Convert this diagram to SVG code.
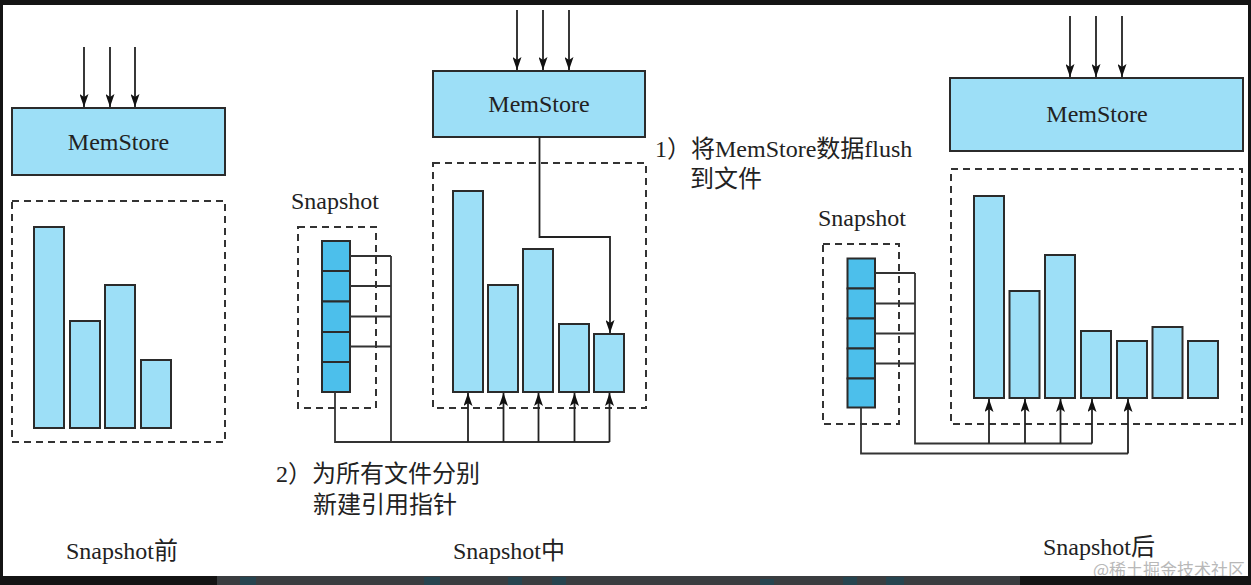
<svg xmlns="http://www.w3.org/2000/svg" width="1251" height="585" viewBox="0 0 1251 585">
<style>
.box{fill:#9ddff7;stroke:#2b2b2b;stroke-width:2}
.snap{fill:#4cbfeb;stroke:#2b2b2b;stroke-width:2}
.dash{fill:none;stroke:#333;stroke-width:2;stroke-dasharray:7 5}
.ln{fill:none;stroke:#333;stroke-width:1.8}
.arr{fill:none;stroke:#222;stroke-width:1.8;marker-end:url(#ah)}
.t{font-family:"Liberation Serif","Noto Sans CJK SC",serif;font-size:24px;fill:#222}
.c{font-family:"Liberation Serif","Noto Sans CJK SC",serif;font-size:24px;fill:#222}
.lbl{text-anchor:middle}
</style>
<defs>
<marker id="ah" markerUnits="userSpaceOnUse" viewBox="0 0 13 9" refX="13" refY="4.5" markerWidth="13" markerHeight="9" orient="auto">
<path d="M0,0 L13,4.5 L0,9 L3,4.5 Z" fill="#111"/>
</marker>
</defs>
<rect x="0" y="0" width="1251" height="585" fill="#ffffff"/>

<!-- Before -->
<g id="memstore-before">
<rect class="box" x="12" y="108" width="213" height="67"/>
<text class="t lbl" x="118.5" y="150">MemStore</text>
</g>
<g id="files-before">
<rect class="dash" x="12" y="201" width="213" height="241"/>
<rect class="box" x="34" y="227" width="30" height="201"/>
<rect class="box" x="70" y="321" width="30" height="107"/>
<rect class="box" x="105" y="285" width="30" height="143"/>
<rect class="box" x="141" y="360" width="30" height="68"/>
</g>
<g id="label-before"><text class="t lbl" x="122" y="559">Snapshot前</text></g>

<!-- During -->
<g id="memstore-during">
<rect class="box" x="433" y="71" width="212" height="66"/>
<text class="t lbl" x="539" y="112">MemStore</text>
</g>
<g id="files-during">
<rect class="dash" x="433" y="163" width="213" height="245"/>
<rect class="box" x="453" y="191" width="30" height="201"/>
<rect class="box" x="488" y="285" width="30" height="107"/>
<rect class="box" x="523" y="249" width="30" height="143"/>
<rect class="box" x="559" y="324" width="30" height="68"/>
<rect class="box" x="594" y="334" width="30" height="58"/>
</g>
<g id="snapshot-during">
<text class="t" x="291" y="209">Snapshot</text>
<rect class="dash" x="298" y="227" width="78" height="181"/>
<rect class="snap" x="322" y="241" width="28" height="30"/>
<rect class="snap" x="322" y="271" width="28" height="30.5"/>
<rect class="snap" x="322" y="301.5" width="28" height="30.5"/>
<rect class="snap" x="322" y="332" width="28" height="30"/>
<rect class="snap" x="322" y="362" width="28" height="30"/>
</g>
<g id="note-1">
<text class="c" x="655" y="157">1）将MemStore数据flush</text>
<text class="c" x="690" y="187">到文件</text>
</g>
<g id="note-2">
<text class="c" x="276" y="482">2）为所有文件分别</text>
<text class="c" x="313" y="513">新建引用指针</text>
</g>
<g id="label-during"><text class="t lbl" x="509" y="559">Snapshot中</text></g>

<!-- After -->
<g id="memstore-after">
<rect class="box" x="950" y="78" width="293" height="73"/>
<text class="t lbl" x="1097" y="122">MemStore</text>
</g>
<g id="files-after">
<rect class="dash" x="951" y="169" width="291" height="255"/>
<rect class="box" x="974" y="196" width="30" height="202"/>
<rect class="box" x="1009.5" y="291" width="30" height="107"/>
<rect class="box" x="1045" y="255" width="30" height="143"/>
<rect class="box" x="1081" y="331" width="30" height="67"/>
<rect class="box" x="1117" y="341" width="30" height="57"/>
<rect class="box" x="1152.5" y="327" width="30" height="71"/>
<rect class="box" x="1188" y="341" width="30" height="57"/>
</g>
<g id="snapshot-after">
<text class="t" x="818" y="226">Snapshot</text>
<rect class="dash" x="823" y="244" width="76" height="180"/>
<rect class="snap" x="847.5" y="258.5" width="27.5" height="30"/>
<rect class="snap" x="847.5" y="288.5" width="27.5" height="30"/>
<rect class="snap" x="847.5" y="318.5" width="27.5" height="30"/>
<rect class="snap" x="847.5" y="348.5" width="27.5" height="30"/>
<rect class="snap" x="847.5" y="378.5" width="27.5" height="29"/>
</g>
<g id="label-after"><text class="t lbl" x="1099" y="555">Snapshot后</text></g>

<g id="connectors">
<!-- writes into MemStore -->
<line class="arr" x1="84" y1="47" x2="84" y2="107"/>
<line class="arr" x1="110" y1="47" x2="110" y2="107"/>
<line class="arr" x1="135" y1="47" x2="135" y2="107"/>
<line class="arr" x1="517" y1="10" x2="517" y2="70"/>
<line class="arr" x1="543" y1="10" x2="543" y2="70"/>
<line class="arr" x1="569" y1="10" x2="569" y2="70"/>
<line class="arr" x1="1070" y1="16" x2="1070" y2="77"/>
<line class="arr" x1="1096" y1="16" x2="1096" y2="77"/>
<line class="arr" x1="1122" y1="16" x2="1122" y2="77"/>
<!-- flush -->
<polyline class="arr" points="539.5,137 539.5,237 610,237 610,333"/>
<!-- during pointers -->
<path class="ln" d="M350,256 H391 M350,286 H391 M350,316.5 H391 M350,346.5 H391 M391,256 V442 M335,392 V442 H609.5"/>
<line class="arr" x1="468" y1="442" x2="468" y2="393"/>
<line class="arr" x1="503.5" y1="442" x2="503.5" y2="393"/>
<line class="arr" x1="538.5" y1="442" x2="538.5" y2="393"/>
<line class="arr" x1="574.5" y1="442" x2="574.5" y2="393"/>
<line class="arr" x1="609.5" y1="442" x2="609.5" y2="393"/>
<!-- after pointers -->
<path class="ln" d="M875,273 H915 M875,303.5 H915 M875,333.5 H915 M875,363.5 H915 M915,273 V443.5 H1092 M861,407.5 V453.5 H1128"/>
<line class="arr" x1="989" y1="443.5" x2="989" y2="399"/>
<line class="arr" x1="1025" y1="443.5" x2="1025" y2="399"/>
<line class="arr" x1="1060.5" y1="443.5" x2="1060.5" y2="399"/>
<line class="arr" x1="1092" y1="443.5" x2="1092" y2="399"/>
<line class="arr" x1="1128" y1="453.5" x2="1128" y2="399"/>
</g>

<text x="1245" y="576" text-anchor="end" font-family="'Noto Sans CJK SC',sans-serif" font-size="17" fill="#b8b8b8">@稀土掘金技术社区</text>

<!-- frame -->
<rect x="0" y="0" width="1251" height="5" fill="#141414"/>
<rect x="0" y="0" width="3" height="585" fill="#141414"/>
<rect x="1248" y="0" width="3" height="585" fill="#141414"/>
<rect x="0" y="576" width="1251" height="9" fill="#141414"/>
<rect x="217" y="576" width="803" height="9" fill="#3a3d40"/>
<g fill="#27444f">
<rect x="240" y="577" width="16" height="8"/>
<rect x="424" y="577" width="16" height="8"/>
<rect x="508" y="577" width="14" height="8"/>
<rect x="552" y="577" width="14" height="8"/>
<rect x="760" y="579" width="14" height="6"/>
<rect x="843" y="577" width="14" height="8"/>
<rect x="886" y="577" width="18" height="8"/>
</g>
</svg>
